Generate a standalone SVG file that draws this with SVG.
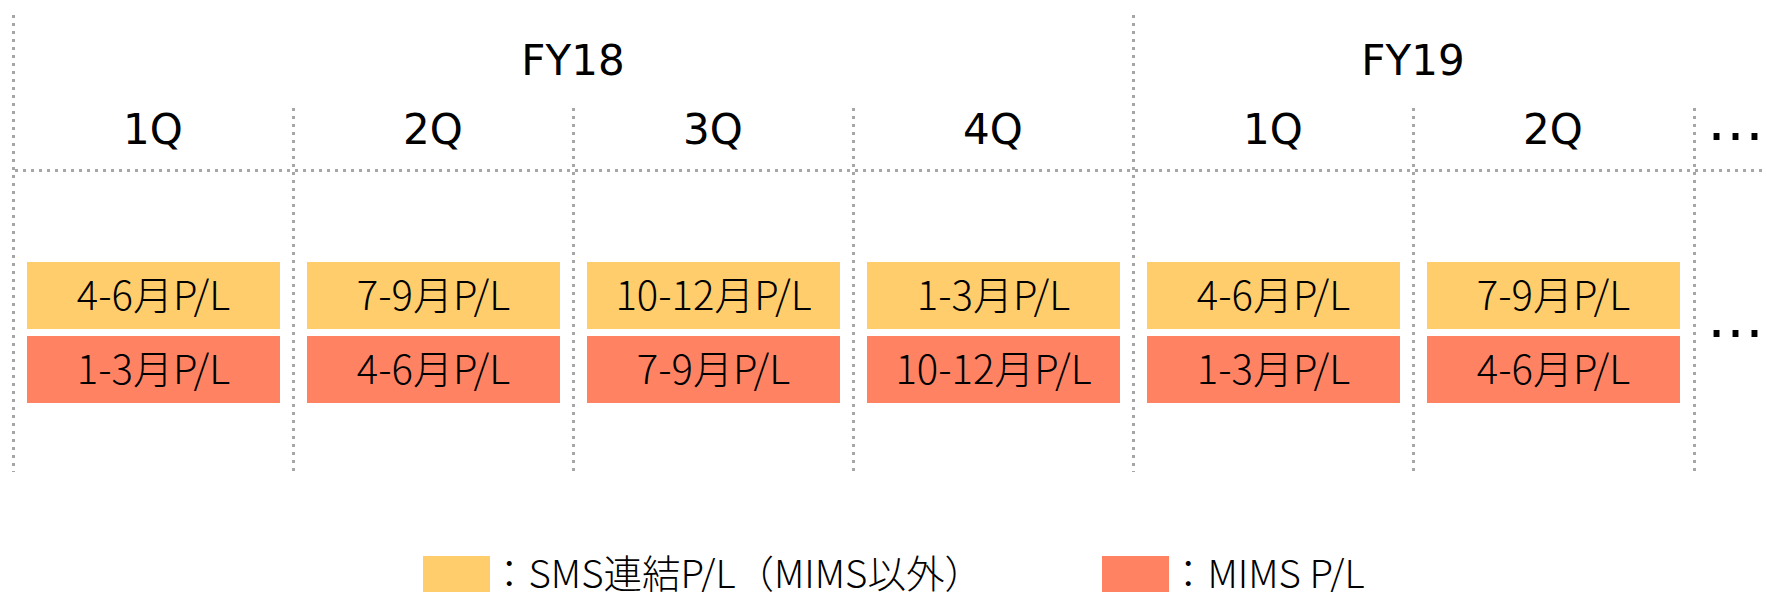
<svg xmlns="http://www.w3.org/2000/svg" width="1767" height="592" viewBox="0 0 1767 592">
<style>
.grid{stroke:#A6A6A6;stroke-width:3;stroke-dasharray:3 5;fill:none}
.hd{font-family:"DejaVu Sans",Verdana,sans-serif;font-size:42px;fill:#000;text-anchor:middle}
.dots{font-family:"DejaVu Sans",sans-serif;font-size:57px;fill:#000}
.sms{fill:#FFCD6B}
.mims{fill:#FF8363}
.bt{font-family:"Noto Sans CJK JP","Noto Sans",sans-serif;font-size:40px;font-weight:300;fill:#000;text-anchor:middle}
.lg{font-family:"Noto Sans CJK JP","Noto Sans",sans-serif;font-size:38.5px;font-weight:300;fill:#000}
</style>
<rect width="1767" height="592" fill="#fff"/>
<g id="grid">
<line class="grid" x1="13.5" y1="15" x2="13.5" y2="472"/>
<line class="grid" x1="1133.5" y1="15" x2="1133.5" y2="472"/>
<line class="grid" x1="293.5" y1="108" x2="293.5" y2="472"/>
<line class="grid" x1="573.5" y1="108" x2="573.5" y2="472"/>
<line class="grid" x1="853.5" y1="108" x2="853.5" y2="472"/>
<line class="grid" x1="1413.5" y1="108" x2="1413.5" y2="472"/>
<line class="grid" x1="1694.5" y1="108" x2="1694.5" y2="472"/>
<line class="grid" x1="15" y1="170.5" x2="1767" y2="170.5"/>
</g>
<g id="headers">
<text class="hd" x="573" y="75">FY18</text>
<text class="hd" x="1413" y="75">FY19</text>
<text class="hd" x="153" y="144">1Q</text>
<text class="hd" x="433" y="144">2Q</text>
<text class="hd" x="713" y="144">3Q</text>
<text class="hd" x="993" y="144">4Q</text>
<text class="hd" x="1273" y="144">1Q</text>
<text class="hd" x="1553" y="144">2Q</text>
<text class="dots" x="1707" y="140">…</text>
<text class="dots" x="1707" y="337">…</text>
</g>
<g id="q1"><rect class="sms" x="27" y="262" width="253" height="67"/><text class="bt" x="153.5" y="310">4-6月P/L</text><rect class="mims" x="27" y="336" width="253" height="67"/><text class="bt" x="153.5" y="384">1-3月P/L</text></g>
<g id="q2"><rect class="sms" x="307" y="262" width="253" height="67"/><text class="bt" x="433.5" y="310">7-9月P/L</text><rect class="mims" x="307" y="336" width="253" height="67"/><text class="bt" x="433.5" y="384">4-6月P/L</text></g>
<g id="q3"><rect class="sms" x="587" y="262" width="253" height="67"/><text class="bt" x="713.5" y="310">10-12月P/L</text><rect class="mims" x="587" y="336" width="253" height="67"/><text class="bt" x="713.5" y="384">7-9月P/L</text></g>
<g id="q4"><rect class="sms" x="867" y="262" width="253" height="67"/><text class="bt" x="993.5" y="310">1-3月P/L</text><rect class="mims" x="867" y="336" width="253" height="67"/><text class="bt" x="993.5" y="384">10-12月P/L</text></g>
<g id="q5"><rect class="sms" x="1147" y="262" width="253" height="67"/><text class="bt" x="1273.5" y="310">4-6月P/L</text><rect class="mims" x="1147" y="336" width="253" height="67"/><text class="bt" x="1273.5" y="384">1-3月P/L</text></g>
<g id="q6"><rect class="sms" x="1427" y="262" width="253" height="67"/><text class="bt" x="1553.5" y="310">7-9月P/L</text><rect class="mims" x="1427" y="336" width="253" height="67"/><text class="bt" x="1553.5" y="384">4-6月P/L</text></g>
<g id="legend">
<rect class="sms" x="423" y="556" width="67" height="40"/>
<text class="lg" x="490" y="588">：SMS連結P/L（MIMS以外）</text>
<rect class="mims" x="1102" y="556" width="67" height="40"/>
<text class="lg" x="1169" y="588">：MIMS P/L</text>
</g>
</svg>
